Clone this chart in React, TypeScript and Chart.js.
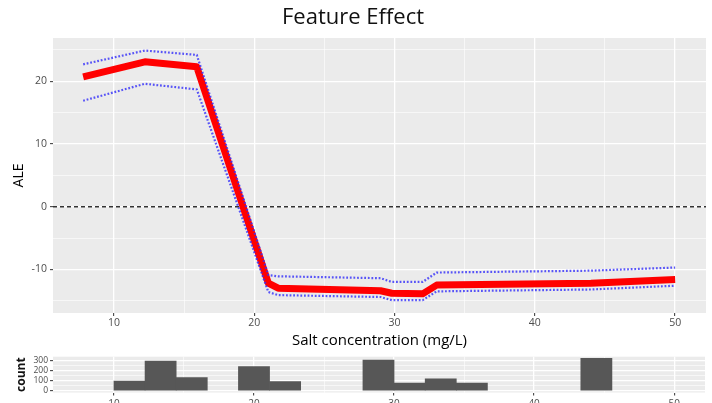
import React, { useEffect, useRef } from 'react';
import { Chart, registerables } from 'chart.js';

Chart.register(...registerables);

// ---- data ----
const ALE_X = [7.8, 12.2, 15.9, 21.0, 21.7, 29.0, 29.8, 32.0, 33.0, 44.0, 50.0];
const ALE_VALUES = [20.7, 23.1, 22.3, -12.2, -13.0, -13.4, -13.8, -13.9, -12.5, -12.2, -11.6];
const ALE_UPPER = [22.7, 24.9, 24.2, -10.9, -11.1, -11.4, -12.0, -12.0, -10.5, -10.2, -9.7];
const ALE_LOWER = [16.9, 19.6, 18.7, -13.6, -14.1, -14.4, -14.9, -14.9, -13.5, -13.2, -12.6];

const X_TICKS = [10, 15, 20, 25, 30, 35, 40, 45, 50];
const Y_TICKS = [-15, -10, -5, 0, 5, 10, 15, 20, 25];
const COUNT_TICKS = [0, 50, 100, 150, 200, 250, 300];

const HIST_COUNTS = [97, 300, 133, 0, 243, 93, 0, 0, 310, 77, 120, 77, 0, 0, 0, 327, 0, 0];
const HIST_MIN = 10;
const HIST_MAX = 50;

const X_MIN = 5.65;
const X_MAX = 52.2;
const Y_MIN = -16.95;
const Y_MAX = 26.9;
const COUNT_MIN = -16.4;
const COUNT_MAX = 343;
const REF_Y = 0;

const FONT = '"Open Sans", "Noto Sans", sans-serif';

const binWidth = (HIST_MAX - HIST_MIN) / HIST_COUNTS.length;
const histData = HIST_COUNTS.map((c, i) => ({ x: HIST_MIN + binWidth * (i + 0.5), y: c }));

const panelBg = {
  id: 'panelBg',
  beforeDraw(chart: any) {
    const { ctx, chartArea } = chart;
    ctx.save();
    ctx.fillStyle = '#EBEBEB';
    ctx.fillRect(chartArea.left, chartArea.top, chartArea.right - chartArea.left, chartArea.bottom - chartArea.top);
    ctx.restore();
  },
};

const refLine = {
  id: 'refLine',
  beforeDatasetsDraw(chart: any) {
    const { ctx, chartArea, scales } = chart;
    const y = scales.y.getPixelForValue(REF_Y);
    ctx.save();
    ctx.beginPath();
    ctx.setLineDash([4, 3]);
    ctx.strokeStyle = '#333333';
    ctx.lineWidth = 1.6;
    ctx.moveTo(chartArea.left, y);
    ctx.lineTo(chartArea.right, y);
    ctx.stroke();
    ctx.restore();
  },
};

function axisOpts(
  ticks: number[],
  isMajor: (v: number) => boolean,
  fontSize: number,
  pad: number,
  fix: (s: any) => void
) {
  return {
    type: 'linear' as const,
    bounds: 'data' as const,
    offset: false,
    afterBuildTicks: (s: any) => {
      s.ticks = ticks.map((v) => ({ value: v }));
    },
    afterFit: (s: any) => {
      fix(s);
      s.paddingLeft = 0;
      s.paddingRight = 0;
      s.paddingTop = 0;
      s.paddingBottom = 0;
    },
    ticks: {
      autoSkip: false,
      maxRotation: 0,
      minRotation: 0,
      padding: pad,
      color: '#4D4D4D',
      font: { family: FONT, size: fontSize },
      callback: (v: any) => (isMajor(Number(v)) ? String(v) : ''),
    },
    grid: {
      offset: false,
      drawOnChartArea: true,
      drawTicks: true,
      tickLength: 3,
      color: '#FFFFFF',
      lineWidth: (c: any) => (c.tick && isMajor(c.tick.value) ? 1.3 : 0.6),
      tickColor: (c: any) => (c.tick && isMajor(c.tick.value) ? '#333333' : 'rgba(0,0,0,0)'),
      tickWidth: 1,
    },
    border: { display: false },
  };
}

export default function App() {
  const mainRef = useRef<HTMLCanvasElement>(null);
  const histRef = useRef<HTMLCanvasElement>(null);

  useEffect(() => {
    const mainX: any = axisOpts(X_TICKS, (v) => v % 10 === 0, 10.5, 1, (s) => (s.height = 37));
    mainX.min = X_MIN;
    mainX.max = X_MAX;
    mainX.title = {
      display: true,
      text: 'Salt concentration (mg/L)',
      color: '#000000',
      font: { family: FONT, size: 15 },
      padding: { top: 0, bottom: 0 },
    };
    const mainY: any = axisOpts(Y_TICKS, (v) => v % 10 === 0, 10.5, 3, (s) => (s.width = 53));
    mainY.min = Y_MIN;
    mainY.max = Y_MAX;
    mainY.title = {
      display: true,
      text: 'ALE',
      color: '#000000',
      font: { family: FONT, size: 14 },
      padding: { top: 11, bottom: 0 },
    };

    const toPts = (ys: number[]) => ALE_X.map((x, i) => ({ x, y: ys[i] }));
    const bandStyle = {
      borderColor: 'rgba(50,45,250,0.8)',
      borderWidth: 2.2,
      borderDash: [1.8, 1.8],
      pointRadius: 0,
      fill: false,
      tension: 0,
    };

    const main = new Chart(mainRef.current!, {
      type: 'line',
      data: {
        datasets: [
          { data: toPts(ALE_UPPER), ...bandStyle },
          { data: toPts(ALE_LOWER), ...bandStyle },
          {
            data: toPts(ALE_VALUES),
            borderColor: '#FF0000',
            borderWidth: 7,
            pointRadius: 0,
            fill: false,
            tension: 0,
            borderJoinStyle: 'round',
            borderCapStyle: 'butt',
          },
        ],
      },
      options: {
        animation: false,
        responsive: false,
        maintainAspectRatio: false,
        layout: { padding: { left: 0, right: 6, top: 0, bottom: 0 } },
        plugins: {
          legend: { display: false },
          tooltip: { enabled: false },
          title: {
            display: true,
            text: 'Feature Effect',
            color: '#111111',
            font: { family: FONT, size: 22, weight: 'normal' },
            padding: { top: 4.8, bottom: 6.8 },
          },
        },
        scales: { x: mainX, y: mainY },
      },
      plugins: [panelBg, refLine],
    });

    const histX: any = axisOpts(X_TICKS, (v) => v % 10 === 0, 10, 3, (s) => (s.height = 10.5));
    histX.min = X_MIN;
    histX.max = X_MAX;
    const histY: any = axisOpts(COUNT_TICKS, (v) => v % 100 === 0, 8.5, 2, (s) => (s.width = 53));
    histY.min = COUNT_MIN;
    histY.max = COUNT_MAX;
    histY.title = {
      display: true,
      text: 'count',
      color: '#111111',
      font: { family: FONT, size: 12, weight: 'bold' },
      padding: { top: 14, bottom: 0 },
    };

    const hist = new Chart(histRef.current!, {
      type: 'bar',
      data: {
        datasets: [
          {
            data: histData,
            backgroundColor: (c: any) => (c.raw && c.raw.y > 0 ? '#575757' : 'rgba(0,0,0,0)'),
            borderWidth: 0,
            barPercentage: 1,
            categoryPercentage: 1,
          },
        ],
      },
      options: {
        animation: false,
        responsive: false,
        maintainAspectRatio: false,
        layout: { padding: { left: 0, right: 7, top: 6.7, bottom: 0 } },
        plugins: { legend: { display: false }, tooltip: { enabled: false } },
        scales: { x: histX, y: histY },
      },
      plugins: [panelBg],
    });

    return () => {
      main.destroy();
      hist.destroy();
    };
  }, []);

  return (
    <div style={{ position: 'fixed', left: 0, top: 0, width: 712, height: 403, background: '#FFFFFF', overflow: 'hidden' }}>
      <canvas ref={mainRef} width={712} height={350} style={{ display: 'block', width: 712, height: 350 }} />
      <canvas ref={histRef} width={712} height={53} style={{ display: 'block', width: 712, height: 53 }} />
    </div>
  );
}
